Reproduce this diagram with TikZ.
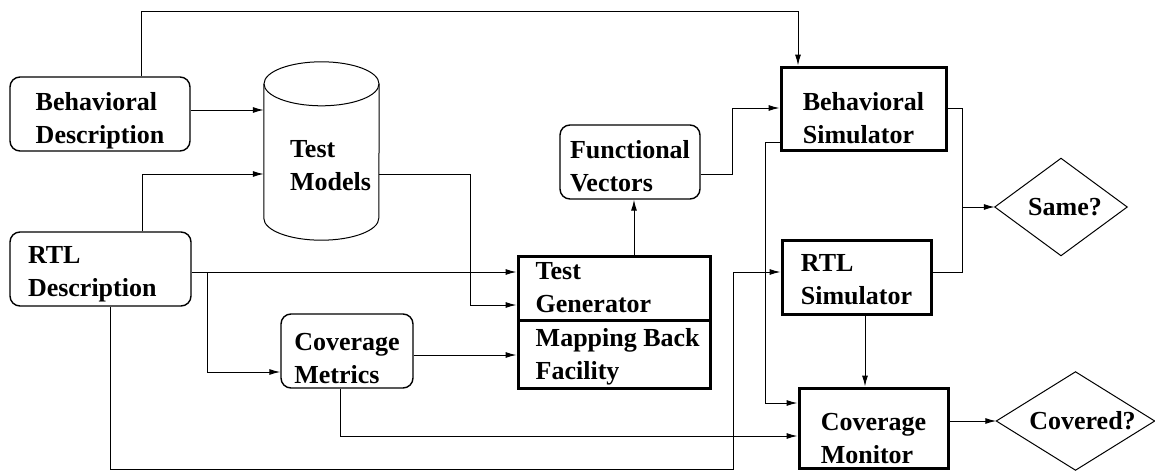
\documentclass[tikz,border=0pt]{standalone}
\usepackage{fontspec}
\setmainfont{Liberation Serif}
\usetikzlibrary{arrows.meta}
% invisible strut that pushes a two-line label down inside its box
\newcommand\txtdrop[1]{\rule{0pt}{#1pt}}
\begin{document}
\begin{tikzpicture}[x=1pt,y=-1pt,
  every node/.style={font=\fontsize{26}{33}\selectfont\bfseries, inner sep=0pt},
  rbox/.style={draw, line width=1.4pt, rounded corners=10pt, align=left},
  tbox/.style={draw, line width=3pt, align=left},
  lbl/.style={align=left, anchor=west},
  wire/.style={line width=1pt},
  arr/.style={line width=1pt, -{Latex[length=11pt,width=6pt]}}]
\useasboundingbox (0,0) rectangle (1155,471);

% source descriptions and derived blocks
\node[rbox, minimum width=180pt, minimum height=74pt] (bd) at (100,114) {\txtdrop{31.5}Behavioral\\Description};
\node[rbox, minimum width=181pt, minimum height=74pt, text width=145pt] (rd) at (100.5,269) {\txtdrop{27.5}RTL\\Description};
\node[rbox, minimum width=132pt, minimum height=74pt] (cm) at (347,351) {\txtdrop{31.5}Coverage\\Metrics};
\node[rbox, minimum width=140pt, minimum height=74pt] (fv) at (630,162) {\txtdrop{25.5}Functional\\Vectors};

% test generator with its mapping-back facility
\node[tbox, minimum width=192pt, minimum height=64pt] (tg) at (614,288) {};
\node[tbox, minimum width=192pt, minimum height=68pt] (mb) at (614,354) {};
\node[lbl] at ([xshift=19pt]tg.west) {Test\\Generator};
\node[lbl] at ([xshift=19pt,yshift=-3pt]mb.west) {Mapping Back\\Facility};

% simulators and monitor
\node[tbox, minimum width=165pt, minimum height=83pt] (bs) at (863.5,108.5) {\txtdrop{37.5}Behavioral\\Simulator};
\node[tbox, minimum width=149pt, minimum height=74pt] (rs) at (856.5,277) {\txtdrop{21.5}RTL\\Simulator};
\node[tbox, minimum width=149pt, minimum height=80pt] (cv) at (873.5,428) {\txtdrop{37.5}Coverage\\Monitor};

% test models database (cylinder)
\node[minimum width=115pt, minimum height=178pt] (tm) at (321.5,151) {};
\path (tm.north) ++(0,22) coordinate (tmtop);
\path (tm.south) ++(0,-22) coordinate (tmbot);
\draw[wire] (tmtop) ellipse [x radius=57.5pt, y radius=22pt];
\draw[wire] (tm.west |- tmtop) -- (tm.west |- tmbot)
  arc[start angle=180, end angle=360, x radius=57.5pt, y radius=22pt] -- (tm.east |- tmtop);
\node[lbl] at ([xshift=26pt,yshift=-15pt]tm.west) {Test\\Models};

% decisions
\node[minimum width=132pt, minimum height=97pt] (same) at (1061,207) {};
\draw[wire] (same.west) -- (same.north) -- (same.east) -- (same.south) -- cycle;
\node at ([xshift=4pt]same.center) {Same?};
\node[minimum width=158pt, minimum height=98pt] (covd) at (1075.5,421) {};
\draw[wire] (covd.west) -- (covd.north) -- (covd.east) -- (covd.south) -- cycle;
\node at ([xshift=7pt]covd.center) {Covered?};

% connectors
\draw[arr] (bd.north -| 141,0) -- (141,11) -| (bs.north -| 798,0);
\draw[arr] (bd.east |- 0,110) -- (tm.west |- 0,110);
\draw[arr] (rd.north -| 142,0) |- (tm.west |- 0,174);
\draw[arr] (rd.east |- 0,272) -- (tg.west |- 0,272);
\coordinate (split) at (207,272);
\draw[arr] (split) |- (cm.west |- 0,372);
\draw[arr] (tm.east |- 0,174) -| (470,305) -- (tg.west |- 0,305);
\draw[arr] (cm.east |- 0,355) -- (mb.west |- 0,355);
\draw[arr] (cm.south -| 340,0) |- (cv.west |- 0,436);
\draw[arr] (rd.south -| 110,0) |- (733,469) |- (rs.west |- 0,272);
\draw[arr] (tg.north -| 634,0) -- (fv.south -| 634,0);
\draw[arr] (fv.east |- 0,174) -| (732,108) -- (bs.west |- 0,108);
\draw[arr] (bs.west |- 0,142) -| (765,403) -- (cv.west |- 0,403);
\draw[wire] (bs.east |- 0,108) -| (962,272) -- (rs.east |- 0,272);
\coordinate (merge) at (962,207);
\draw[arr] (merge) -- (same.west);
\draw[arr] (rs.south -| 865,0) -- (cv.north -| 865,0);
\draw[arr] (cv.east |- covd.west) -- (covd.west);
\end{tikzpicture}
\end{document}
